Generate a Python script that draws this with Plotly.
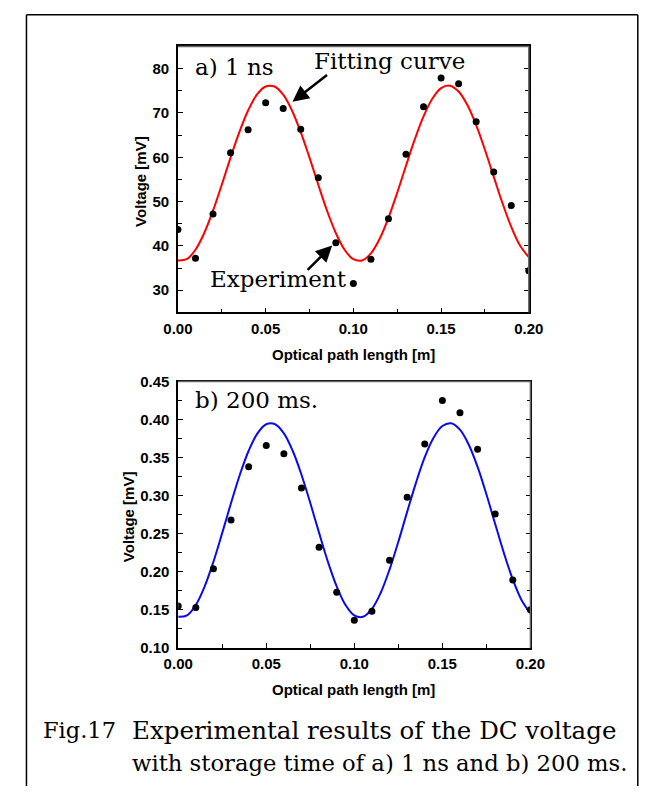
import plotly.graph_objects as go

W, H = 659, 794

# ---------------- data ----------------
exp_x = [0.00, 0.01, 0.02, 0.03, 0.04, 0.05, 0.06, 0.07, 0.08, 0.09, 0.10,
         0.11, 0.12, 0.13, 0.14, 0.15, 0.16, 0.17, 0.18, 0.19, 0.20]
exp_a = [43.7, 37.2, 47.2, 61.0, 66.2, 72.3, 71.0, 66.3, 55.4, 40.7, 31.5,
         37.0, 46.1, 60.7, 71.4, 77.9, 76.6, 68.0, 56.7, 49.1, 34.4]
exp_b = [0.155, 0.153, 0.204, 0.268, 0.338, 0.366, 0.355, 0.310, 0.232, 0.173, 0.136,
         0.148, 0.215, 0.298, 0.368, 0.425, 0.409, 0.361, 0.276, 0.189, 0.150]

fit_x = [0.000, 0.005, 0.010, 0.015, 0.020, 0.025, 0.030, 0.035, 0.040, 0.045,
         0.050, 0.055, 0.060, 0.065, 0.070, 0.075, 0.080, 0.085, 0.090, 0.095,
         0.100, 0.105, 0.110, 0.115, 0.120, 0.125, 0.130, 0.135, 0.140, 0.145,
         0.150, 0.155, 0.160, 0.165, 0.170, 0.175, 0.180, 0.185, 0.190, 0.195, 0.200]
fit_a = [36.72, 36.99, 39.13, 42.90, 47.94, 53.80, 59.91, 65.67, 70.56, 74.11,
         75.96, 75.96, 74.11, 70.56, 65.67, 59.91, 53.80, 47.93, 42.90, 39.13,
         36.99, 36.72, 38.30, 41.61, 46.34, 52.00, 58.08, 64.02, 69.23, 73.20,
         75.60, 76.16, 74.85, 71.78, 67.26, 61.69, 55.63, 49.64, 44.31, 40.09, 37.45]
fit_b = [0.1407, 0.1425, 0.1563, 0.1806, 0.2131, 0.2510, 0.2903, 0.3275, 0.3590, 0.3819,
         0.3939, 0.3939, 0.3819, 0.3590, 0.3275, 0.2903, 0.2510, 0.2131, 0.1806, 0.1563,
         0.1425, 0.1407, 0.1510, 0.1723, 0.2028, 0.2393, 0.2786, 0.3168, 0.3505, 0.3761,
         0.3915, 0.3952, 0.3867, 0.3669, 0.3378, 0.3018, 0.2627, 0.2241, 0.1897, 0.1625, 0.1455]

x_ticks = [0.00, 0.05, 0.10, 0.15, 0.20]
x_ticklabels = ["0.00", "0.05", "0.10", "0.15", "0.20"]
ya_ticks = [30, 40, 50, 60, 70, 80]
yb_ticks = [0.10, 0.15, 0.20, 0.25, 0.30, 0.35, 0.40, 0.45]
yb_ticklabels = ["0.10", "0.15", "0.20", "0.25", "0.30", "0.35", "0.40", "0.45"]

x_title = "Optical path length [m]"
y_title = "Voltage [mV]"
caption_label = "Fig.17"
caption1 = "Experimental results of the DC voltage"
caption2 = "with storage time of a) 1 ns and b) 200 ms."

# ---------------- layout helpers ----------------
def px(x):
    return x / W

def py(y):
    return (H - y) / H

# plot rectangles in pixels (left, top, right, bottom)
A = (170.7, 38.3, 538.3, 310.0)
B = (171.0, 380.7, 540.0, 652.7)

SANS = "Liberation Sans"
SERIF = "DejaVu Serif"

fig = go.Figure()
fig.add_trace(go.Scatter(x=fit_x, y=fit_a, mode="lines", line=dict(color="#ff0000", width=2, shape="spline"),
                         xaxis="x", yaxis="y", showlegend=False, hoverinfo="skip"))
fig.add_trace(go.Scatter(x=exp_x, y=exp_a, mode="markers", marker=dict(color="black", size=7),
                         xaxis="x", yaxis="y", showlegend=False))
fig.add_trace(go.Scatter(x=fit_x, y=fit_b, mode="lines", line=dict(color="#0a0aee", width=2, shape="spline"),
                         xaxis="x2", yaxis="y2", showlegend=False, hoverinfo="skip"))
fig.add_trace(go.Scatter(x=exp_x, y=exp_b, mode="markers", marker=dict(color="black", size=7),
                         xaxis="x2", yaxis="y2", showlegend=False))

tickfont = dict(family=SANS, size=15, color="black", weight="bold")

def xaxis(rect, anchor):
    return dict(domain=[px(rect[0]), px(rect[2])], anchor=anchor, range=[0, 0.2],
                tickvals=x_ticks, ticktext=x_ticklabels, ticks="inside", ticklen=5, tickwidth=1,
                tickcolor="black", showline=True, linecolor="black", linewidth=1.5, mirror=True,
                showgrid=False, zeroline=False, tickfont=tickfont, ticklabelstandoff=2,
                minor=dict(ticks="inside", ticklen=4, dtick=0.025, tick0=0, tickcolor="black", showgrid=False))

def yaxis(rect, anchor, rng, tv, tt, minor_dtick):
    return dict(domain=[py(rect[3]), py(rect[1])], anchor=anchor, range=rng,
                tickvals=tv, ticktext=tt, ticks="inside", ticklen=5, tickwidth=1,
                tickcolor="black", showline=True, linecolor="black", linewidth=1.5, mirror="allticks",
                showgrid=False, zeroline=False, tickfont=tickfont, ticklabelstandoff=4,
                minor=dict(ticks="inside", ticklen=4, dtick=minor_dtick, tick0=0, tickcolor="black", showgrid=False))

annotations = []
# axis titles
for rect, ytx in ((A, 131.5), (B, 119.0)):
    annotations.append(dict(text=y_title, textangle=-90, xref="paper", yref="paper",
                            x=px(ytx), y=py((rect[1] + rect[3]) / 2 + 2), xanchor="center", yanchor="middle",
                            showarrow=False, font=dict(family=SANS, size=15, color="black", weight="bold")))
for yc in (352.7, 695.0):
    annotations.append(dict(text=x_title, xref="paper", yref="paper", x=px(354.5), y=py(yc),
                            xanchor="center", yanchor="middle", showarrow=False,
                            font=dict(family=SANS, size=15, color="black", weight="bold")))

serif = dict(family=SERIF, size=23, color="black")
annotations += [
    dict(text="a) 1 ns", xref="paper", yref="paper", x=px(186), y=py(59), xanchor="left", yanchor="middle",
         showarrow=False, font=serif),
    dict(text="Fitting curve", xref="paper", yref="paper", x=px(311), y=py(53), xanchor="left", yanchor="middle",
         showarrow=False, font=serif),
    dict(text="Experiment", xref="paper", yref="paper", x=px(202), y=py(276), xanchor="left", yanchor="middle",
         showarrow=False, font=serif),
    dict(text="b) 200 ms.", xref="paper", yref="paper", x=px(186), y=py(400), xanchor="left", yanchor="middle",
         showarrow=False, font=serif),
    # arrows
    dict(text="", x=0.0653, y=72.5, xref="x", yref="y", ax=36, ay=-28, showarrow=True,
         arrowhead=2, arrowsize=1.3, arrowwidth=2.5, arrowcolor="black"),
    dict(text="", x=0.0879, y=40.1, xref="x", yref="y", ax=-26, ay=26, showarrow=True,
         arrowhead=2, arrowsize=1.3, arrowwidth=2.5, arrowcolor="black"),
    # caption
    dict(text=caption_label, xref="paper", yref="paper", x=px(27), y=py(737), xanchor="left", yanchor="middle",
         showarrow=False, font=dict(family=SERIF, size=22.5, color="black")),
    dict(text=caption1, xref="paper", yref="paper", x=px(121), y=py(737), xanchor="left", yanchor="middle",
         showarrow=False, font=dict(family=SERIF, size=24.5, color="black")),
    dict(text=caption2, xref="paper", yref="paper", x=px(121), y=py(770), xanchor="left", yanchor="middle",
         showarrow=False, font=dict(family=SERIF, size=22.7, color="black")),
]

frame = dict(color="black", width=1.5)
shapes = [
    # outer frame (left, top, right; open at the bottom edge)
    dict(type="line", xref="paper", yref="paper", x0=px(12), x1=px(12), y0=0, y1=py(6), line=frame),
    dict(type="line", xref="paper", yref="paper", x0=px(12), x1=px(652.5), y0=py(6), y1=py(6), line=frame),
    dict(type="line", xref="paper", yref="paper", x0=px(652.5), x1=px(652.5), y0=0, y1=py(6), line=frame),
]
# grey top/right borders of the plot boxes
for r in (A, B):
    shapes.append(dict(type="line", xref="paper", yref="paper", x0=px(r[0]), x1=px(r[2]), y0=py(r[1]), y1=py(r[1]),
                       line=dict(color="#666666", width=1.5), layer="above"))
    shapes.append(dict(type="line", xref="paper", yref="paper", x0=px(r[2]), x1=px(r[2]), y0=py(r[3]), y1=py(r[1]),
                       line=dict(color="#666666", width=1.5), layer="above"))

fig.update_layout(
    width=W, height=H, margin=dict(l=0, r=0, t=0, b=0),
    paper_bgcolor="white", plot_bgcolor="white",
    xaxis=xaxis(A, "y"),
    yaxis=yaxis(A, "x", [25, 85], ya_ticks, [str(v) for v in ya_ticks], 5),
    xaxis2=xaxis(B, "y2"),
    yaxis2=yaxis(B, "x2", [0.10, 0.45], yb_ticks, yb_ticklabels, 0.025),
    annotations=annotations, shapes=shapes, showlegend=False,
)

fig.write_html("out.html")
